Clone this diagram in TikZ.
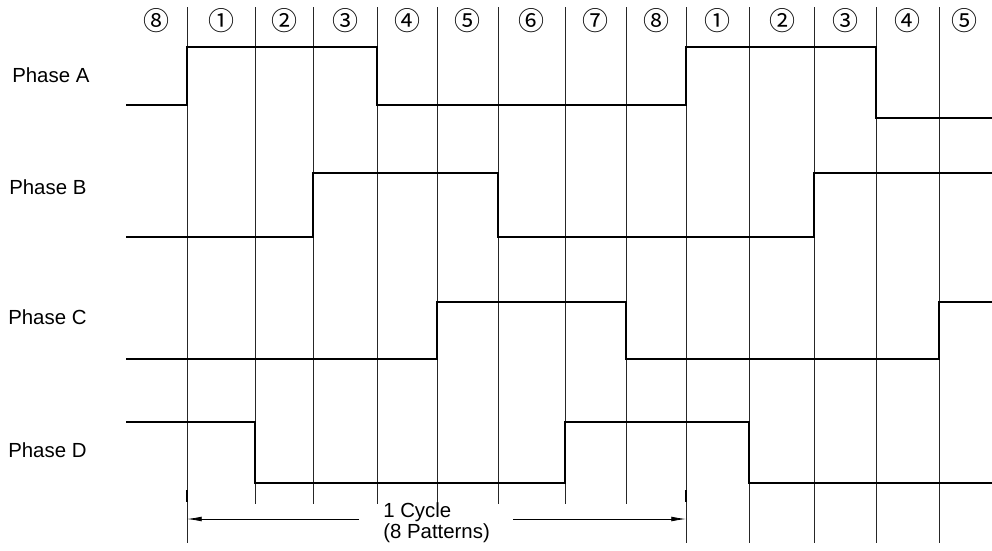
\documentclass[tikz,border=0pt]{standalone}
\usepackage{fontspec}
\setmainfont{Liberation Sans}
\newfontfamily\circfont{Noto Sans CJK JP}
\usetikzlibrary{arrows.meta}
\begin{document}
\begin{tikzpicture}[x=0.75pt,y=-0.75pt,
  gridline/.style={draw=black!85,line width=0.6pt},
  wave/.style={draw=black,line width=2.1pt,line join=miter},
  phaselabel/.style={anchor=base west,inner sep=0pt,font=\fontsize{15.3}{18}\selectfont},
  stepnum/.style={inner sep=0pt,font=\circfont\fontsize{19.5}{22}\selectfont},
  cyclelabel/.style={anchor=base west,inner sep=0pt,font=\fontsize{15.3}{18}\selectfont},
  dimarrow/.style={draw=black,line width=0.6pt,-{Latex[length=11pt,width=3.6pt]}}]
\useasboundingbox (0,0) rectangle (992,550);
% grid lines
\foreach \x in {255,313,377,437,498,565,626}
  \draw[gridline] (\x,7) -- (\x,504);
\foreach \x in {187,686,749,814,876,939}
  \draw[gridline] (\x,7) -- (\x,543);
\foreach \x in {187,686}
  \draw[black,line width=1.3pt] (\x,490) -- (\x,502);
% step numbers
\foreach \x/\n [count=\i] in {156/⑧,221/①,284/②,345/③,407/④,467.5/⑤,531.5/⑥,595.5/⑦,656/⑧,717.5/①,782/②,845/③,907.5/④,964/⑤}
  \node[stepnum] (n\i) at (\x,21) {\n};
% phase labels
\node[phaselabel] (la) at (12,82) {Phase A};
\node[phaselabel] (lb) at (9,194) {Phase B};
\node[phaselabel] (lc) at (8,324) {Phase C};
\node[phaselabel] (ld) at (8,457) {Phase D};
% waveforms
\draw[wave] (126,105) -- (187,105) -- (187,47) -- (377,47) -- (377,105) -- (686,105) -- (686,47) -- (876,47) -- (876,118) -- (992,118);
\draw[wave] (126,237) -- (313,237) -- (313,173) -- (498,173) -- (498,237) -- (814,237) -- (814,173) -- (992,173);
\draw[wave] (126,359) -- (437,359) -- (437,302) -- (626,302) -- (626,359) -- (939,359) -- (939,302) -- (992,302);
\draw[wave] (126,422) -- (255,422) -- (255,483) -- (565,483) -- (565,422) -- (749,422) -- (749,483) -- (992,483);
% cycle dimension
\coordinate (cs) at (187,519);
\coordinate (ce) at (686,519);
\coordinate (gl) at (359,519);
\coordinate (gr) at (513,519);
\draw[dimarrow] (gl) -- (cs);
\draw[dimarrow] (gr) -- (ce);
\node[cyclelabel] (c1) at (383,517.7) {1 Cycle};
\node[cyclelabel] (c2) at (383,538) {(8 Patterns)};
\end{tikzpicture}
\end{document}
